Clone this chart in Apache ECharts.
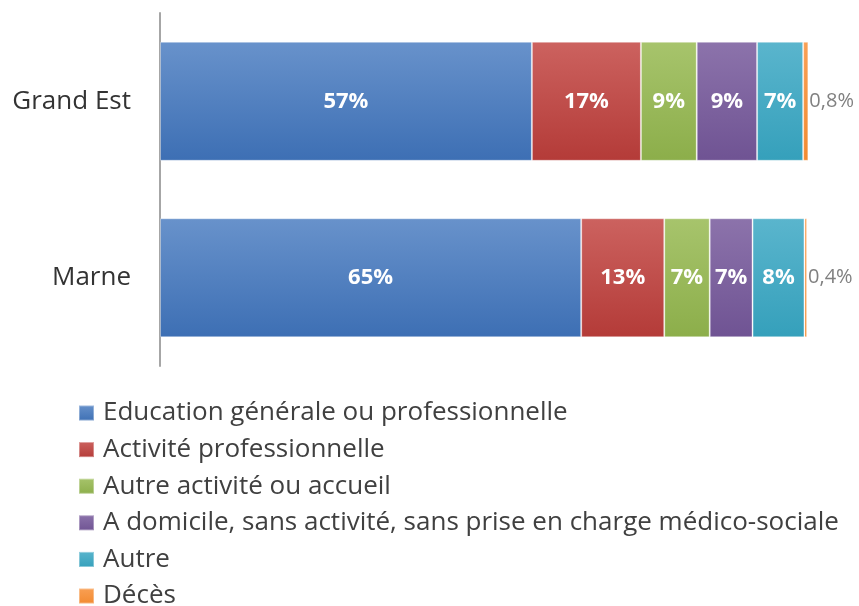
<!DOCTYPE html>
<html>
<head>
<meta charset="utf-8">
<script src="https://cdn.jsdelivr.net/npm/echarts@6/dist/echarts.min.js"></script>
<style>
  html, body { margin: 0; padding: 0; background: #fff; }
  #chart { width: 859px; height: 606px; }
</style>
</head>
<body>
<div id="chart"></div>
<script>
var categories = ["Grand Est", "Marne"];
var seriesNames = [
  "Education générale ou professionnelle",
  "Activité professionnelle",
  "Autre activité ou accueil",
  "A domicile, sans activité, sans prise en charge médico-sociale",
  "Autre",
  "Décès"
];
var education = [57.3, 64.9];
var activitePro = [16.8, 12.8];
var autreActivite = [8.6, 7.0];
var domicile = [9.3, 6.6];
var autre = [7.1, 8.0];
var deces = [0.8, 0.4];

var values = [education, activitePro, autreActivite, domicile, autre, deces];
// top / bottom colours of the excel-like gradient
var colors = [
  ["#6892cb", "#3d6fb4"],
  ["#cc625f", "#b43b38"],
  ["#a7c46c", "#8cae4a"],
  ["#8c73ab", "#6f5393"],
  ["#5ab5cd", "#35a0bb"],
  ["#f9a055", "#f28a30"]
];
var legendColors = ["#4f81bd", "#c0504d", "#9bbb59", "#8064a2", "#4bacc6", "#f79646"];

var chart = echarts.init(document.getElementById("chart"));

var series = seriesNames.map(function (name, i) {
  var last = i === seriesNames.length - 1;
  return {
    name: name,
    type: "bar",
    stack: "total",
    barWidth: 119,
    data: values[i],
    itemStyle: {
      color: new echarts.graphic.LinearGradient(0, 0, 0, 1, [
        { offset: 0, color: colors[i][0] },
        { offset: 1, color: colors[i][1] }
      ]),
      borderColor: "rgba(255,255,255,0.35)",
      borderWidth: 1
    },
    label: {
      show: true,
      position: last ? "right" : "inside",
      distance: 1,
      color: last ? "#808080" : "#ffffff",
      fontFamily: "Open Sans",
      fontSize: last ? 20 : 22,
      fontWeight: last ? "normal" : "bold",
      formatter: function (p) {
        if (last) return p.value.toFixed(1).replace(".", ",") + "%";
        return Math.round(p.value) + "%";
      }
    },
    emphasis: { disabled: true }
  };
});

chart.setOption({
  animation: false,
  color: legendColors,
  grid: { left: 160, right: 50, top: 13, bottom: 240 },
  xAxis: {
    type: "value",
    min: 0,
    max: 100,
    show: false
  },
  yAxis: {
    type: "category",
    data: categories,
    inverse: true,
    axisLine: { lineStyle: { color: "#a6a6a6", width: 2 } },
    axisTick: { show: false },
    axisLabel: {
      color: "#333333",
      fontFamily: "Open Sans",
      fontSize: 26,
      margin: 29
    }
  },
  legend: {
    orient: "vertical",
    left: 73,
    top: 393,
    height: 260,
    itemWidth: 15,
    itemHeight: 15,
    itemGap: 6.6,
    icon: "rect",
    selectedMode: false,
    textStyle: {
      color: "#404040",
      fontFamily: "Open Sans",
      fontSize: 26,
      lineHeight: 30,
      padding: [0, 0, 0, 4]
    },
    data: seriesNames
  },
  series: series
});
</script>
</body>
</html>
